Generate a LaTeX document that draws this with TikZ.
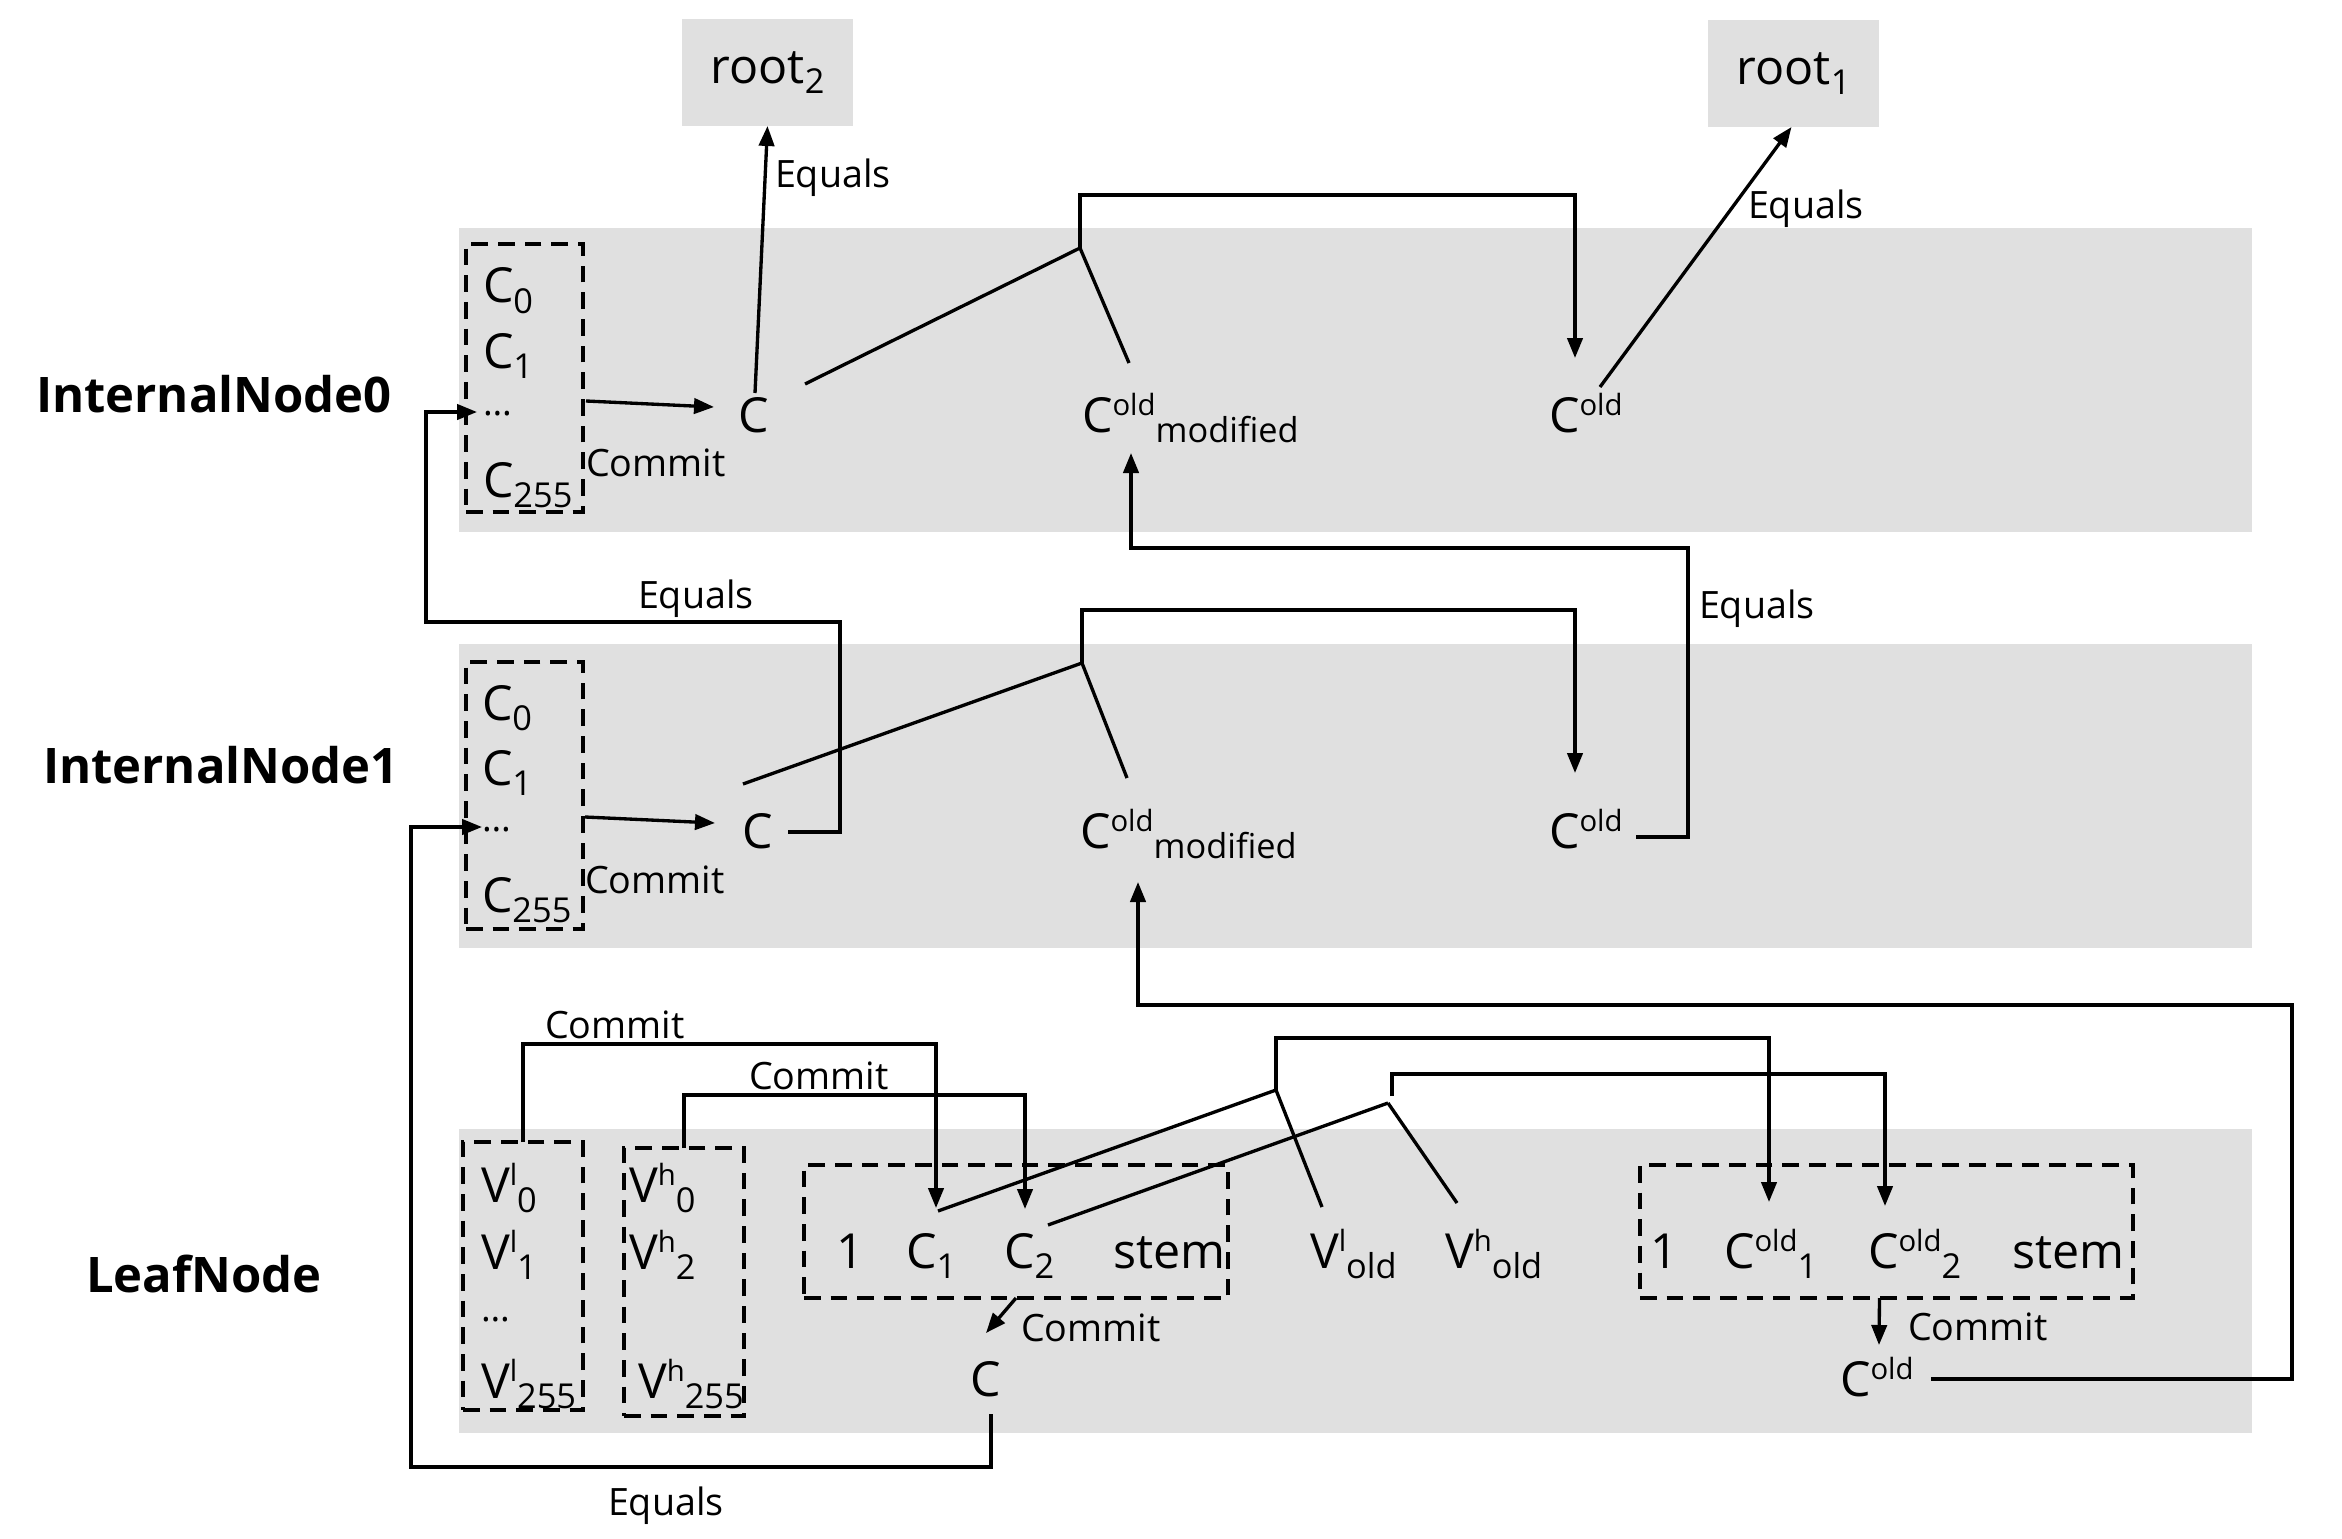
\documentclass[tikz,border=0pt]{standalone}
\usepackage{fontspec}
\setmainfont{Open Sans}
\usetikzlibrary{arrows.meta,calc,fit}
\definecolor{bandgray}{RGB}{224,224,224}
% raised / lowered indices set one after the other
\newcommand\upt[1]{\raisebox{5pt}{\fontsize{8.8}{9}\selectfont #1}}
\newcommand\dnt[1]{\raisebox{-3.2pt}{\fontsize{10.3}{11}\selectfont #1}}

\begin{document}
\begin{tikzpicture}[x=0.3pt,y=-0.3pt,
  txt/.style={inner sep=0pt,outer sep=0pt,anchor=base west,font=\fontsize{14.5}{16}\selectfont},
  lbl/.style={inner sep=0pt,outer sep=0pt,anchor=base west,font=\fontsize{11.3}{13}\selectfont},
  dots/.style={inner sep=0pt,outer sep=0pt,anchor=base west,font=\fontsize{11}{12}\selectfont},
  title/.style={inner sep=0pt,outer sep=0pt,anchor=base west,font=\fontsize{14.7}{16}\selectfont\bfseries},
  band/.style={fill=bandgray,draw=none,inner sep=0pt,outer sep=0pt},
  dbox/.style={draw,line width=1pt,dash pattern=on 5pt off 3pt,inner sep=0pt,outer sep=0pt},
  rootbox/.style={fill=bandgray,inner sep=0pt,outer sep=0pt,minimum width=51.3pt,minimum height=32.1pt,font=\fontsize{14.5}{16}\selectfont},
  ln/.style={line width=1pt},
  arr/.style={line width=1pt,-{Triangle[length=6pt,width=4.6pt]}},
]
\useasboundingbox (0,0) rectangle (2342,1538);

% background bands
\node[band,fit={(459,228) (2252,532)}] (band0) {};
\node[band,fit={(459,644) (2252,948)}] (band1) {};
\node[band,fit={(459,1129) (2252,1433)}] (band2) {};

% roots
\node[rootbox] (root2) at (767.5,72.5) {root\dnt{2}};
\node[rootbox] (root1) at (1793.5,73.5) {root\dnt{1}};

% row titles
\node[title] (lab0) at (36,412) {InternalNode0};
\node[title] (lab1) at (43,783) {InternalNode1};
\node[title] (lab2) at (86,1292) {LeafNode};

% ---------- InternalNode0 ----------
\node[dbox,fit={(466,244) (583,512)}] (box0) {};
\node[txt] (b0c0) at (483,303) {C\dnt{0}};
\node[txt] (b0c1) at (483,368) {C\dnt{1}};
\node[dots] (b0dots) at (483,415) {…};
\node[txt] (b0c255) at (483,497) {C\dnt{255}};
\node[lbl] (b0commit) at (586,476) {Commit};
\node[txt] (b0C) at (738,432) {C};
\node[txt] (b0mod) at (1082,432) {C\upt{old}\dnt{modified}};
\node[txt] (b0old) at (1549,432) {C\upt{old}};
\node[lbl] (eq0) at (775,187) {Equals};
\node[lbl] (eq1) at (1748,219) {Equals};
\coordinate (J0) at (1080,248);

% ---------- InternalNode1 ----------
\node[dbox,fit={(466,662) (583,929)}] (box1) {};
\node[txt] (b1c0) at (482,720) {C\dnt{0}};
\node[txt] (b1c1) at (482,785) {C\dnt{1}};
\node[dots] (b1dots) at (482,831) {…};
\node[txt] (b1c255) at (482,912) {C\dnt{255}};
\node[lbl] (b1commit) at (585,893) {Commit};
\node[txt] (b1C) at (742,848) {C};
\node[txt] (b1mod) at (1080,848) {C\upt{old}\dnt{modified}};
\node[txt] (b1old) at (1549,848) {C\upt{old}};
\node[lbl] (eq2) at (638,608) {Equals};
\node[lbl] (eq3) at (1699,618) {Equals};
\coordinate (J1) at (1082,663);

% ---------- LeafNode ----------
\node[dbox,fit={(463,1142) (583,1410)}] (boxVl) {};
\node[dbox,fit={(624,1148) (744,1416)}] (boxVh) {};
\node[dbox,fit={(804,1165) (1228,1298)}] (boxL) {};
\node[dbox,fit={(1640,1165) (2133,1298)}] (boxR) {};
\node[txt] (vl0) at (481,1202) {V\upt{l}\dnt{0}};
\node[txt] (vl1) at (481,1269) {V\upt{l}\dnt{1}};
\node[dots] (vldots) at (481,1321) {…};
\node[txt] (vl255) at (481,1398) {V\upt{l}\dnt{255}};
\node[txt] (vh0) at (629,1202) {V\upt{h}\dnt{0}};
\node[txt] (vh2) at (629,1269) {V\upt{h}\dnt{2}};
\node[txt] (vh255) at (638,1398) {V\upt{h}\dnt{255}};
\node[txt] (lone) at (836,1268) {1};
\node[txt] (lc1) at (906,1268) {C\dnt{1}};
\node[txt] (lc2) at (1004,1268) {C\dnt{2}};
\node[txt] (lstem) at (1113,1268) {stem};
\node[txt] (vlold) at (1310,1268) {V\upt{l}\dnt{old}};
\node[txt] (vhold) at (1445,1268) {V\upt{h}\dnt{old}};
\node[txt] (rone) at (1650,1268) {1};
\node[txt] (rc1) at (1724,1268) {C\upt{old}\dnt{1}};
\node[txt] (rc2) at (1868,1268) {C\upt{old}\dnt{2}};
\node[txt] (rstem) at (2012,1268) {stem};
\node[txt] (lC) at (970,1396) {C};
\node[txt] (lold) at (1840,1396) {C\upt{old}};
\node[lbl] (cm1) at (545,1038) {Commit};
\node[lbl] (cm2) at (749,1089) {Commit};
\node[lbl] (cm3) at (1021,1341) {Commit};
\node[lbl] (cm4) at (1908,1340) {Commit};
\node[lbl] (eq4) at (608,1515) {Equals};
\coordinate (JA) at (1276,1090);
\coordinate (JB) at (1388,1103);
\coordinate (JBtop) at (1392,1096);

% ---------- connectors: InternalNode0 ----------
\draw[arr] ($(box0.east)+(3,23)$) -- ($(b0C.base west)+(-24,-25)$);
\draw[arr] ($(b0C.base west)+(17,-39)$) -- (root2.south);
\draw[ln] ($(b0C.base west)+(67,-48)$) -- (J0);
\draw[ln] (J0) -- ($(b0mod.base west)+(47,-69)$);
\draw[arr] (J0) -- ++(0,-53) -| ($(b0old.base west)+(26,-74)$);
\draw[arr] ($(b0old.base west)+(51,-45)$) -- ($(root1.south)+(-2,0)$);
\draw[arr] ($(b1old.base west)+(87,-11)$) -- ++(52,0) -- ++(0,-289)
  -| ($(b0mod.base west)+(49,21)$);

% ---------- connectors: InternalNode1 ----------
\draw[arr] ($(box1.east)+(2,21.5)$) -- ($(b1C.base west)+(-27,-25)$);
\draw[ln] ($(b1C.base west)+(1,-64)$) -- (J1);
\draw[ln] (J1) -- ($(b1mod.base west)+(47,-70)$);
\draw[arr] (J1) -- ++(0,-53) -| ($(b1old.base west)+(26,-75)$);
\draw[arr] ($(b1C.base west)+(46,-16)$) -- ++(52,0) -- ++(0,-210) -- ++(-414,0)
  |- ($(b0dots.base west)+(-6,-3)$);

% ---------- connectors: LeafNode ----------
\draw[arr] ($(lC.base west)+(21,18)$) -- ++(0,53) -- ++(-580,0)
  |- ($(b1dots.base west)+(0,-4)$);
\draw[arr] (boxVl.north) -- ++(0,-98) -| ($(lc1.base west)+(30,-60)$);
\draw[arr] (boxVh.north) -- ++(0,-53) -| ($(lc2.base west)+(21,-59)$);
\draw[ln] (JA) -- ($(lc1.base west)+(32,-57)$);
\draw[ln] (JA) -- ($(vlold.base west)+(12,-61)$);
\draw[arr] (JA) -- ++(0,-52) -| ($(rc1.base west)+(45,-66)$);
\draw[ln] (JB) -- ($(lc2.base west)+(44,-43)$);
\draw[ln] (JB) -- ($(vhold.base west)+(12,-65)$);
\draw[arr] (JBtop) -- ++(0,-22) -| ($(rc2.base west)+(17,-62)$);
\draw[arr] (boxL.south) -- ($(lC.base west)+(16,-63)$);
\draw[arr] ($(boxR.south)+(-7,0)$) -- ($(lold.base west)+(39,-51)$);
\draw[arr] ($(lold.base west)+(91,-17)$) -- ++(361,0) -- ++(0,-374)
  -| ($(b1mod.base west)+(58,34)$);
\end{tikzpicture}
\end{document}
